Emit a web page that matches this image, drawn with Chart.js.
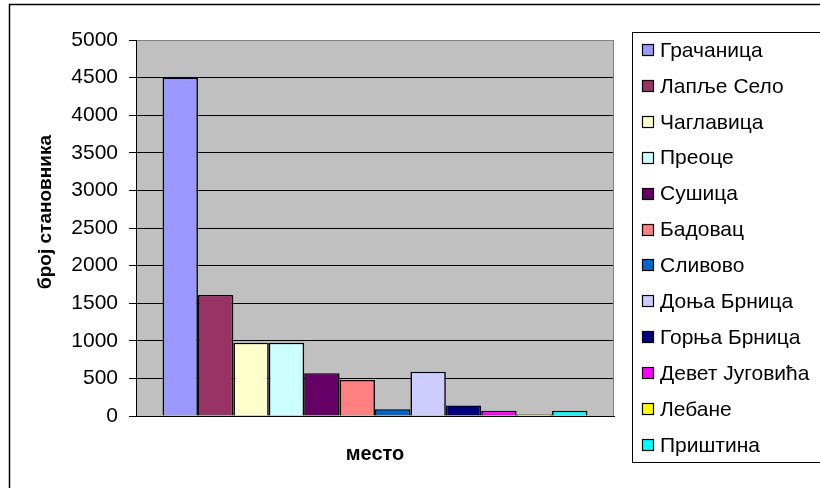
<!DOCTYPE html>
<html>
<head>
<meta charset="utf-8">
<script src="https://cdn.jsdelivr.net/npm/chart.js@4/dist/chart.umd.min.js"></script>
<style>
  html, body { margin: 0; padding: 0; background: #fff; }
  canvas { display: block; }
</style>
</head>
<body>
<canvas id="c" width="820" height="488"></canvas>
<script>
// ---- data ----
const categories = ['место'];
const places = ['Грачаница', 'Лапље Село', 'Чаглавица', 'Преоце', 'Сушица', 'Бадовац',
                'Сливово', 'Доња Брница', 'Горња Брница', 'Девет Југовића', 'Лебане', 'Приштина'];
const population = [4500, 1610, 975, 975, 570, 480, 90, 590, 140, 70, 20, 70];
const colors = ['#9999FF', '#993366', '#FFFFCC', '#CCFFFF', '#660066', '#FF8080',
                '#0066CC', '#CCCCFF', '#000080', '#FF00FF', '#FFFF00', '#00FFFF'];
const yTicks = [0, 500, 1000, 1500, 2000, 2500, 3000, 3500, 4000, 4500, 5000];
const yTitle = 'број становника';
const xTitle = 'место';

const FONT = '"Liberation Sans", Arial, sans-serif';

const datasets = places.map((name, i) => ({
  label: name,
  data: [population[i]],
  backgroundColor: colors[i],
  borderColor: '#000',
  borderWidth: 1.6,
  barPercentage: 1,
  categoryPercentage: 0.889
}));

const framePlugin = {
  id: 'frame',
  beforeDraw(chart) {
    const ctx = chart.ctx, a = chart.chartArea;
    ctx.save();
    ctx.fillStyle = '#fff';
    ctx.fillRect(0, 0, chart.width, chart.height);
    ctx.strokeStyle = '#000';
    ctx.lineWidth = 1.5;
    ctx.strokeRect(9.5, 4.5, 1000, 1000);
    ctx.fillStyle = '#C0C0C0';
    ctx.fillRect(a.left, a.top, a.right - a.left, a.bottom - a.top);
    ctx.restore();
  },
  afterDatasetsDraw(chart) {
    const ctx = chart.ctx, a = chart.chartArea;
    ctx.save();
    ctx.strokeStyle = '#808080';
    ctx.lineWidth = 1;
    ctx.beginPath();
    ctx.moveTo(a.left, a.top + 0.5);
    ctx.lineTo(a.right - 0.5, a.top + 0.5);
    ctx.lineTo(a.right - 0.5, a.bottom);
    ctx.stroke();
    ctx.strokeStyle = '#000';
    ctx.beginPath();
    ctx.moveTo(a.left + 0.5, a.top);
    ctx.lineTo(a.left + 0.5, a.bottom + 0.5);
    ctx.lineTo(a.right, a.bottom + 0.5);
    ctx.stroke();
    // y axis title
    ctx.translate(46, 212);
    ctx.rotate(-Math.PI / 2);
    ctx.fillStyle = '#000';
    ctx.font = 'bold 19px ' + FONT;
    ctx.textAlign = 'center';
    ctx.textBaseline = 'middle';
    ctx.fillText(yTitle, 0, 0);
    ctx.restore();
  },
  afterDraw(chart) {
    // legend
    const ctx = chart.ctx;
    ctx.save();
    ctx.strokeStyle = '#000';
    ctx.lineWidth = 1;
    ctx.strokeRect(632.5, 32.5, 400, 430);
    ctx.font = '21px ' + FONT;
    ctx.textBaseline = 'middle';
    ctx.textAlign = 'left';
    chart.data.datasets.forEach((ds, i) => {
      const cy = 50 + i * 35.9;
      ctx.fillStyle = ds.backgroundColor;
      ctx.fillRect(642, Math.round(cy - 6), 11, 11);
      ctx.strokeStyle = '#000';
      ctx.lineWidth = 1.2;
      ctx.strokeRect(642.5, Math.round(cy - 6) + 0.5, 11, 11);
      ctx.fillStyle = '#000';
      ctx.fillText(ds.label, 660, cy + 1);
    });
    ctx.restore();
  }
};

new Chart(document.getElementById('c'), {
  type: 'bar',
  data: { labels: categories, datasets },
  plugins: [framePlugin],
  options: {
    responsive: false,
    devicePixelRatio: 1,
    animation: false,
    layout: { padding: { top: 40, right: 206, bottom: 0, left: 0 } },
    plugins: {
      legend: { display: false },
      tooltip: { enabled: false },
      title: { display: false }
    },
    scales: {
      x: {
        afterFit(scale) { scale.height = 72; },
        grid: { display: false, drawTicks: false },
        border: { display: true, color: '#000', width: 1 },
        ticks: { display: false },
        title: {
          display: true,
          text: xTitle,
          color: '#000',
          font: { family: FONT, size: 20, weight: 'bold' },
          padding: { top: 0, bottom: 22 }
        }
      },
      y: {
        min: 0,
        max: 5000,
        afterFit(scale) { scale.width = 136; },
        afterBuildTicks(scale) { scale.ticks = yTicks.map(v => ({ value: v })); },
        grid: {
          color: (c) => (c.tick && c.tick.value === 5000) ? '#808080' : '#000',
          tickColor: '#000',
          lineWidth: 1,
          tickLength: 7,
          drawTicks: true
        },
        border: { display: true, color: '#000', width: 1 },
        ticks: {
          color: '#000',
          padding: 11,
          font: { family: FONT, size: 21 },
          callback: (v) => String(v)
        }
      }
    }
  }
});
</script>
</body>
</html>
